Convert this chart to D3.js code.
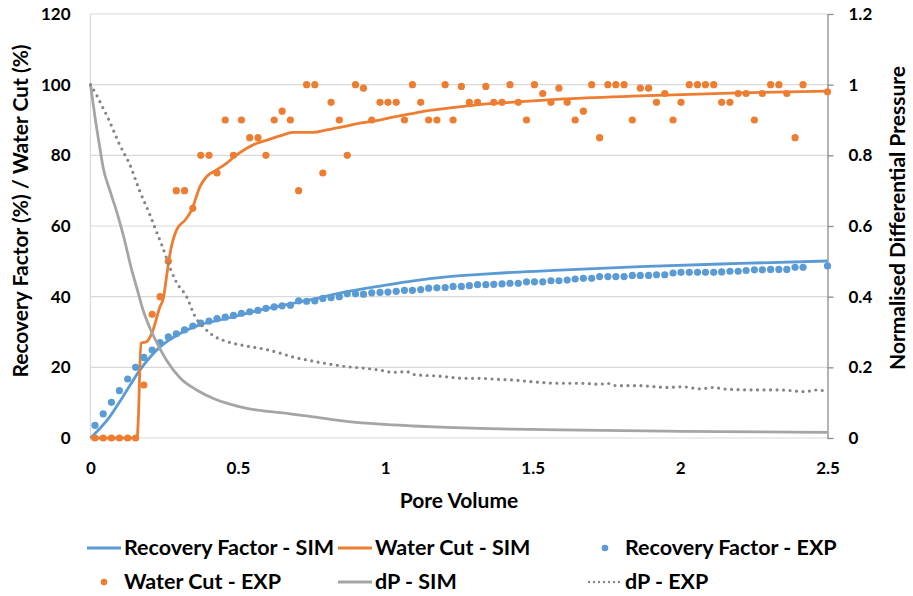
<!DOCTYPE html>
<html>
<head>
<meta charset="utf-8">
<script src="https://cdn.jsdelivr.net/npm/d3@7"></script>
<style>
  body { margin: 0; background: #fff; }
  svg text { font-family: Lato, "Open Sans", sans-serif; font-weight: bold; fill: #000; }
</style>
</head>
<body>
<svg id="chart" width="913" height="596"></svg>
<script>
// experimental points (pore volume)
const pvExp = [0.015, 0.043, 0.071, 0.098, 0.126, 0.153, 0.181, 0.209, 0.236, 0.264,
  0.291, 0.319, 0.347, 0.374, 0.402, 0.429, 0.457, 0.485, 0.512, 0.540,
  0.568, 0.595, 0.623, 0.650, 0.678, 0.706, 0.733, 0.761, 0.788, 0.816,
  0.844, 0.871, 0.899, 0.926, 0.954, 0.982, 1.009, 1.037, 1.065, 1.092,
  1.120, 1.147, 1.175, 1.203, 1.230, 1.258, 1.285, 1.313, 1.341, 1.368,
  1.396, 1.423, 1.451, 1.479, 1.506, 1.534, 1.562, 1.589, 1.617, 1.644,
  1.672, 1.700, 1.727, 1.755, 1.782, 1.810, 1.838, 1.865, 1.893, 1.920,
  1.948, 1.976, 2.003, 2.031, 2.059, 2.086, 2.114, 2.141, 2.169, 2.197,
  2.224, 2.252, 2.279, 2.307, 2.335, 2.362, 2.390, 2.417, 2.5];

const rfExp = [3.6, 6.8, 10.1, 13.4, 16.7, 20.0, 22.8, 24.9, 27.0, 28.6,
  29.5, 30.6, 31.7, 32.5, 33.1, 33.8, 34.2, 34.7, 35.3, 35.7,
  36.1, 36.7, 37.1, 37.4, 37.6, 38.8, 38.7, 38.8, 39.5, 39.7,
  40.0, 40.8, 40.8, 40.7, 41.1, 41.2, 41.3, 41.5, 41.8, 41.8,
  42.0, 42.4, 42.5, 42.6, 42.9, 42.9, 43.1, 43.4, 43.4, 43.5,
  43.6, 43.8, 43.8, 44.2, 44.2, 44.2, 44.5, 44.5, 44.7, 45.0,
  45.2, 45.2, 45.7, 45.7, 45.7, 45.7, 46.0, 46.0, 46.0, 46.2,
  46.2, 46.7, 46.9, 46.9, 46.9, 46.9, 46.9, 47.0, 47.2, 47.2,
  47.4, 47.6, 47.6, 47.7, 47.7, 47.7, 48.3, 48.3, 48.7];

const wcExp = [0, 0, 0, 0, 0, 0, 15, 35, 40, 50,
  70, 70, 65, 80, 80, 75, 90, 80, 90, 85,
  85, 80, 90, 92.5, 90, 70, 100, 100, 75, 95,
  90, 80, 100, 99, 90, 95, 95, 95, 90, 100,
  95, 90, 90, 100, 90, 99.5, 95, 95, 99.5, 95,
  95, 100, 95, 90, 100, 97.5, 95, 99, 95, 90,
  92.5, 100, 85, 100, 100, 100, 90, 99, 99, 95,
  97.5, 90, 95, 100, 100, 100, 100, 95, 95, 97.5,
  97.5, 90, 97.5, 100, 100, 97.5, 85, 100, 98];

// simulation curves
const pvRfSim = [0, 0.065, 0.11, 0.168, 0.236, 0.304, 0.371, 0.439, 0.507, 0.575,
  0.643, 0.756, 0.869, 0.982, 1.095, 1.208, 1.321, 1.434, 1.592, 1.864, 2.203, 2.5];
const rfSim = [0, 6.0, 11.7, 19.3, 25.8, 29.6, 32.0, 33.4, 34.8, 36.2,
  37.4, 39.3, 41.4, 43.0, 44.5, 45.6, 46.3, 46.9, 47.5, 48.5, 49.4, 50.1];

const pvWcSim = [0, 0.158, 0.162, 0.171, 0.191, 0.208, 0.236, 0.247, 0.258, 0.27,
  0.292, 0.321, 0.343, 0.371, 0.394, 0.428, 0.462, 0.496, 0.53, 0.564,
  0.598, 0.643, 0.688, 0.756, 0.801, 0.858, 0.914, 0.971, 1.027, 1.084,
  1.14, 1.208, 1.31, 1.423, 1.593, 1.864, 2.203, 2.5];
const wcSim = [0, 0, 5, 26.8, 27.3, 29.6, 37.2, 39.5, 45.7, 52.3,
  58.9, 61.7, 64.5, 71.1, 74.0, 75.9, 77.8, 80.1, 82.0, 83.4,
  84.3, 85.5, 86.5, 86.5, 87.2, 88.1, 89.1, 89.8, 90.8, 91.7,
  92.6, 93.3, 94.3, 95.0, 95.9, 96.8, 97.7, 98.2];

const pvDpSim = [0, 0.015, 0.032, 0.043, 0.066, 0.089, 0.111, 0.14, 0.157, 0.179,
  0.202, 0.225, 0.258, 0.304, 0.36, 0.417, 0.473, 0.53, 0.586, 0.643,
  0.756, 0.869, 0.982, 1.095, 1.208, 1.321, 1.433, 1.593, 2.0, 2.5];
const dpSim = [1.0, 0.91, 0.82, 0.765, 0.70, 0.64, 0.575, 0.475, 0.425, 0.36,
  0.31, 0.27, 0.22, 0.17, 0.136, 0.112, 0.096, 0.084, 0.077, 0.072,
  0.060, 0.047, 0.039, 0.034, 0.030, 0.027, 0.025, 0.023, 0.019, 0.016];

const pvDpExp = [0, 0.021, 0.043, 0.060, 0.077, 0.094, 0.115, 0.134, 0.151, 0.168,
  0.185, 0.202, 0.219, 0.242, 0.258, 0.275, 0.292, 0.326, 0.354, 0.388,
  0.416, 0.463, 0.531, 0.599, 0.643, 0.683, 0.745, 0.812, 0.869, 0.937,
  0.982, 1.026, 1.073, 1.094, 1.186, 1.264, 1.321, 1.378, 1.433, 1.501,
  1.581, 1.66, 1.728, 1.751, 1.785, 1.864, 1.955, 2.01, 2.068, 2.112,
  2.158, 2.271, 2.339, 2.43, 2.451, 2.498];
const dpExp = [1.0, 0.97, 0.933, 0.905, 0.872, 0.839, 0.804, 0.773, 0.735, 0.697,
  0.664, 0.631, 0.594, 0.546, 0.509, 0.471, 0.44, 0.40, 0.345, 0.31,
  0.29, 0.273, 0.26, 0.25, 0.24, 0.23, 0.219, 0.209, 0.202, 0.197,
  0.192, 0.186, 0.188, 0.18, 0.175, 0.169, 0.169, 0.166, 0.164, 0.159,
  0.155, 0.155, 0.152, 0.155, 0.148, 0.148, 0.143, 0.145, 0.139, 0.143,
  0.138, 0.136, 0.136, 0.131, 0.136, 0.133];

const xTicks = [0, 0.5, 1, 1.5, 2, 2.5];
const yTicksLeft = [0, 20, 40, 60, 80, 100, 120];
const yTicksRight = [0, 0.2, 0.4, 0.6, 0.8, 1, 1.2];

const blue = "#5B9BD5", orange = "#ED7D31", grey = "#A5A5A5", dotGrey = "#858585";

const svg = d3.select("#chart");

const x = d3.scaleLinear().domain([0, 2.5]).range([90.5, 827.5]);
const yL = d3.scaleLinear().domain([0, 120]).range([438, 14]);
const yR = d3.scaleLinear().domain([0, 1.2]).range([438, 14]);

// gridlines
svg.append("g")
  .selectAll("line")
  .data(yTicksLeft)
  .enter().append("line")
  .attr("x1", x(0)).attr("x2", x(2.5))
  .attr("y1", d => yL(d)).attr("y2", d => yL(d))
  .attr("stroke", "#D9D9D9").attr("stroke-width", 1.2);

svg.append("line")
  .attr("x1", x(0)).attr("x2", x(0))
  .attr("y1", yL(0)).attr("y2", yL(120))
  .attr("stroke", "#D9D9D9").attr("stroke-width", 1.2);

// axes
const axL = svg.append("g")
  .attr("transform", `translate(${x(0)},0)`)
  .call(d3.axisLeft(yL).tickValues(yTicksLeft).tickSize(0).tickPadding(20));
axL.select(".domain").remove();

const axR = svg.append("g")
  .attr("transform", `translate(${x(2.5)},0)`)
  .call(d3.axisRight(yR).tickValues(yTicksRight).tickSize(6).tickSizeOuter(0).tickPadding(15)
    .tickFormat(d => String(d)));
axR.select(".domain").attr("stroke", "#8C8C8C").attr("stroke-width", 1.3);
axR.selectAll(".tick line").attr("stroke", "#8C8C8C").attr("stroke-width", 1.3);

const axB = svg.append("g")
  .attr("transform", `translate(0,${yL(0)})`)
  .call(d3.axisBottom(x).tickValues(xTicks).tickSize(0).tickPadding(24).tickFormat(d => String(d)));
axB.select(".domain").remove();

svg.selectAll(".tick text").style("font-size", "17px").attr("fill", "#000");

// axis titles
svg.append("text")
  .attr("x", (x(0) + x(2.5)) / 2).attr("y", 508)
  .attr("text-anchor", "middle").style("font-size", "21px")
  .text("Pore Volume");

svg.append("text")
  .attr("transform", "translate(28,211) rotate(-90)")
  .attr("text-anchor", "middle").style("font-size", "21px")
  .text("Recovery Factor (%) / Water Cut (%)");

svg.append("text")
  .attr("transform", "translate(905,218) rotate(-90)")
  .attr("text-anchor", "middle").style("font-size", "21px")
  .text("Normalised Differential Pressure");

// series
const lineL = d3.line().x(d => x(d[0])).y(d => yL(d[1])).curve(d3.curveMonotoneX);
const lineR = d3.line().x(d => x(d[0])).y(d => yR(d[1])).curve(d3.curveMonotoneX);

svg.append("path")
  .datum(d3.zip(pvRfSim, rfSim))
  .attr("d", lineL).attr("fill", "none")
  .attr("stroke", blue).attr("stroke-width", 2.8);

svg.append("path")
  .datum(d3.zip(pvWcSim, wcSim))
  .attr("d", lineL).attr("fill", "none")
  .attr("stroke", orange).attr("stroke-width", 2.8);

svg.append("g")
  .selectAll("circle")
  .data(d3.zip(pvExp, rfExp))
  .enter().append("circle")
  .attr("cx", d => x(d[0])).attr("cy", d => yL(d[1]))
  .attr("r", 3.6).attr("fill", blue);

svg.append("g")
  .selectAll("circle")
  .data(d3.zip(pvExp, wcExp))
  .enter().append("circle")
  .attr("cx", d => x(d[0])).attr("cy", d => yL(d[1]))
  .attr("r", 3.6).attr("fill", orange);

svg.append("path")
  .datum(d3.zip(pvDpSim, dpSim))
  .attr("d", lineR).attr("fill", "none")
  .attr("stroke", grey).attr("stroke-width", 2.8);

svg.append("path")
  .datum(d3.zip(pvDpExp, dpExp))
  .attr("d", lineR).attr("fill", "none")
  .attr("stroke", dotGrey).attr("stroke-width", 3.2)
  .attr("stroke-linecap", "round").attr("stroke-dasharray", "0 6.5");

// legend
const legendItems = [
  { label: "Recovery Factor - SIM", kind: "line", color: blue },
  { label: "Water Cut - SIM", kind: "line", color: orange },
  { label: "Recovery Factor - EXP", kind: "dot", color: blue },
  { label: "Water Cut - EXP", kind: "dot", color: orange },
  { label: "dP - SIM", kind: "line", color: grey },
  { label: "dP - EXP", kind: "dotted", color: dotGrey }
];
const colX = [87, 338, 588];
const rowY = [548, 582];

legendItems.forEach((d, i) => {
  const g = svg.append("g")
    .attr("transform", `translate(${colX[i % 3]},${rowY[Math.floor(i / 3)]})`);
  if (d.kind === "line") {
    g.append("line").attr("x1", 0).attr("x2", 34).attr("y1", 0).attr("y2", 0)
      .attr("stroke", d.color).attr("stroke-width", 2.8);
  } else if (d.kind === "dot") {
    g.append("circle").attr("cx", 17).attr("cy", 0).attr("r", 3.3).attr("fill", d.color);
  } else {
    g.append("line").attr("x1", 1).attr("x2", 32).attr("y1", 0).attr("y2", 0)
      .attr("stroke", d.color).attr("stroke-width", 2.4)
      .attr("stroke-linecap", "round").attr("stroke-dasharray", "0 5");
  }
  g.append("text").attr("x", 37).attr("y", 7)
    .style("font-size", "21.5px").text(d.label);
});
</script>
</body>
</html>
